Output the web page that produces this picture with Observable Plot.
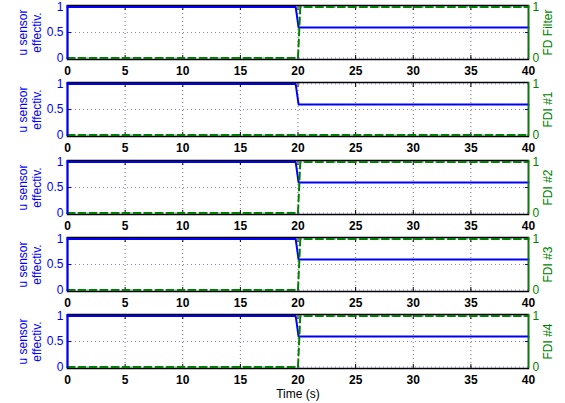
<!DOCTYPE html>
<html><head><meta charset="utf-8">
<script src="https://cdn.jsdelivr.net/npm/d3@7"></script>
<script src="https://cdn.jsdelivr.net/npm/@observablehq/plot@0.6"></script>
<style>
body{margin:0;background:#fff;}
#chart{position:relative;width:565px;height:403px;overflow:hidden;background:#fff;}
#chart svg{position:absolute;left:0;overflow:visible;}
</style></head><body><div id="chart"></div>
<script>
const uTime = [0, 19.8, 20.05, 40];
const uValue = [1, 1, 0.6, 0.6];
const fdTime = [0, 20, 20.2, 40];
const fdFilter = [0, 0, 1, 1];
const fdi1 = [0, 0, 0, 0];
const fdi2 = [0, 0, 1, 1];
const fdi3 = [0, 0, 1, 1];
const fdi4 = [0, 0, 1, 1];
const fdSeries = [fdFilter, fdi1, fdi2, fdi3, fdi4];
const panelLabels = ["FD Filter", "FDI #1", "FDI #2", "FDI #3", "FDI #4"];
const leftLabel = "u sensor\neffectiv.";
const xLabel = "Time (s)";
const xTicks = [0, 5, 10, 15, 20, 25, 30, 35, 40];
const innerGridX = [5, 10, 15, 20, 25, 30, 35];
const leftTicks = [0, 0.5, 1];
const rightTicks = [0, 1];

const BLUE = "#0000ff", GREEN = "#008000";
const font = "'Liberation Sans', Arial, Helvetica, sans-serif";
const container = document.getElementById("chart");
const step = 77.25;
const noText = () => "";
panelLabels.forEach((label, i) => {
  const last = i === panelLabels.length - 1;
  const top = Math.round(i * step);
  const height = last ? 403 - top : 77;
  const uData = uTime.map((t, k) => ({t, v: uValue[k]}));
  const fData = fdTime.map((t, k) => ({t, v: fdSeries[i][k]}));
  const marks = [
    Plot.gridX(innerGridX, {stroke: "#000", strokeOpacity: 0.55, strokeDasharray: "1,3"}),
    Plot.gridY(leftTicks, {stroke: BLUE, strokeOpacity: 0.5, strokeDasharray: "1,3"}),
    Plot.axisX({ticks: innerGridX, anchor: "bottom", tickSize: -4, tickFormat: noText, label: null}),
    Plot.axisX({ticks: innerGridX, anchor: "top", tickSize: -4, tickFormat: noText, label: null}),
    Plot.axisY({ticks: [0.5], anchor: "left", tickSize: -4, tickFormat: noText, color: BLUE, label: null}),
    Plot.axisY({ticks: [0.5], anchor: "right", tickSize: -4, tickFormat: noText, color: BLUE, label: null}),
    Plot.frame({stroke: "#000", strokeWidth: 1.5}),
    Plot.line(uData, {x: "t", y: "v", stroke: BLUE, strokeWidth: 2}),
    Plot.line(fData, {x: "t", y: "v", stroke: GREEN, strokeWidth: 2, strokeDasharray: "7,4"}),
    Plot.ruleX([0], {stroke: BLUE, strokeWidth: 2}),
    Plot.ruleX([40], {stroke: GREEN, strokeWidth: 1.5}),
    Plot.axisX({ticks: xTicks, tickSize: 0, tickPadding: 7, fontWeight: "bold", label: null, tickFormat: d => String(d)}),
    Plot.axisY({ticks: leftTicks, anchor: "left", tickSize: 0, tickPadding: 4, color: BLUE, label: null, tickFormat: d => String(d)}),
    Plot.axisY({ticks: rightTicks, anchor: "right", tickSize: 0, tickPadding: 4, color: GREEN, label: null, tickFormat: d => String(d)}),
    Plot.text([leftLabel], {frameAnchor: "left", dx: -38, rotate: -90, textAnchor: "middle", lineAnchor: "middle", fill: BLUE, lineHeight: 1.17}),
    Plot.text([label], {frameAnchor: "right", dx: 20, rotate: -90, textAnchor: "middle", lineAnchor: "middle", fill: GREEN})
  ];
  if (last) marks.push(Plot.text([xLabel], {frameAnchor: "bottom", dy: 26, textAnchor: "middle", lineAnchor: "middle", fill: "#000"}));
  const svg = Plot.plot({
    width: 565, height, marginLeft: 67, marginRight: 37, marginTop: 5, marginBottom: height - 59,
    x: {domain: [0, 40]}, y: {domain: [-0.03, 1.03]},
    style: {fontSize: "12px", fontFamily: font, background: "white"},
    marks
  });
  svg.style.top = top + "px";
  container.appendChild(svg);
});
</script></body></html>
